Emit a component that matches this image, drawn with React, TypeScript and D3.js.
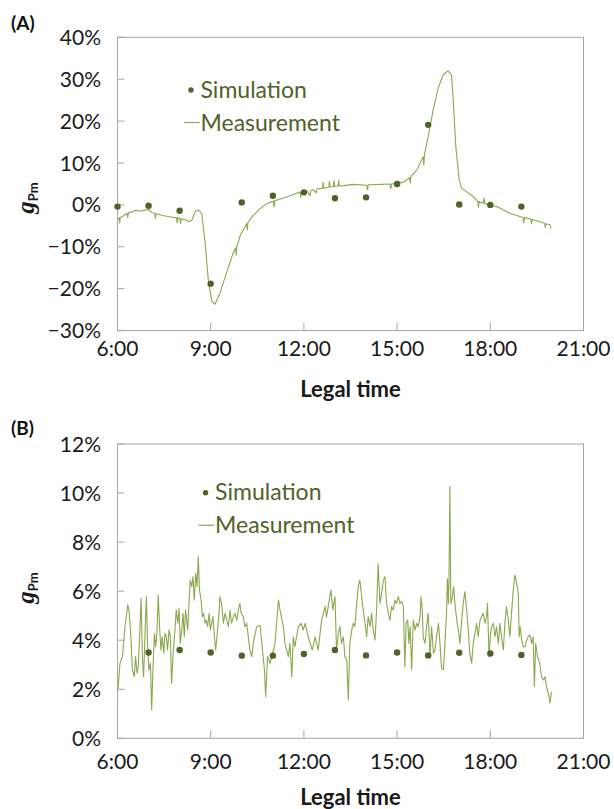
import React from 'react';
import * as d3 from 'd3';

// x axis (hours of the day)
const xTicks = [6, 9, 12, 15, 18, 21];

// panel A
const yTicksA = [-30, -20, -10, 0, 10, 20, 30, 40];
const simTimesA = [6, 7, 8, 9, 10, 11, 12, 13, 14, 15, 16, 17, 18, 19];
const simValuesA = [-0.4, -0.2, -1.4, -18.8, 0.6, 2.2, 3.0, 1.6, 1.8, 5.0, 19.1, 0.1, 0.0, -0.4];
const measA: [number, number][] = [
  [6.0, -3.5], [6.05, -3.0], [6.07, -4.3], [6.09, -3.0], [6.2, -2.6], [6.3, -2.0], [6.33, -3.0], [6.35, -1.9],
  [6.5, -1.6], [6.6, -1.2], [6.7, -1.5], [6.85, -1.3], [7.0, -1.1], [7.1, -1.8], [7.2, -2.0], [7.22, -3.2],
  [7.24, -2.1], [7.5, -2.6], [7.8, -3.0], [7.9, -3.0], [7.92, -4.3], [7.94, -3.1], [8.0, -3.2], [8.03, -4.4],
  [8.05, -3.3], [8.1, -3.4], [8.2, -3.6], [8.3, -4.0], [8.4, -3.6], [8.5, -1.6], [8.6, -1.2], [8.71, -2.0],
  [8.82, -9.0], [8.93, -18.5], [9.04, -23.1], [9.14, -23.7], [9.3, -21.0], [9.52, -16.0], [9.73, -11.3],
  [9.8, -10.3], [9.82, -12.0], [9.84, -10.0], [9.95, -7.3], [10.16, -4.5], [10.18, -6.0], [10.2, -4.2],
  [10.37, -2.5], [10.59, -0.9], [10.8, 0.3], [11.02, 0.9], [11.04, -0.5], [11.06, 1.0], [11.45, 1.9],
  [11.87, 3.1], [11.9, 1.8], [11.92, 3.1], [12.1, 3.3], [12.2, 2.2], [12.22, 3.4], [12.3, 3.6], [12.4, 2.9],
  [12.42, 3.8], [12.6, 4.0], [12.62, 5.4], [12.64, 4.0], [12.8, 4.2], [12.82, 5.6], [12.84, 4.3], [12.95, 4.4],
  [12.97, 5.8], [12.99, 4.4], [13.1, 4.5], [13.12, 5.8], [13.14, 4.5], [13.3, 4.6], [13.59, 4.9], [14.02, 4.7],
  [14.05, 3.6], [14.07, 4.8], [14.5, 4.9], [14.77, 5.0], [14.8, 3.8], [14.82, 5.0], [15.04, 5.2], [15.2, 5.4],
  [15.3, 5.9], [15.4, 6.5], [15.42, 5.2], [15.44, 6.7], [15.63, 8.3], [15.84, 11.5], [15.86, 9.5], [15.88, 12.0],
  [16.0, 16.3], [16.16, 22.6], [16.32, 27.8], [16.48, 31.0], [16.64, 32.0], [16.75, 31.0], [16.8, 25.8],
  [16.89, 13.9], [17.0, 5.9], [17.07, 4.0], [17.45, 2.0], [17.6, 0.8], [17.62, -0.6], [17.64, 0.8],
  [17.77, 0.4], [17.8, 1.6], [17.82, 0.3], [18.2, -0.4], [18.63, -2.0], [19.05, -3.0], [19.08, -4.3],
  [19.1, -3.0], [19.3, -3.4], [19.33, -4.5], [19.35, -3.5], [19.59, -4.0], [19.75, -4.4], [19.77, -5.4],
  [19.79, -4.5], [19.93, -4.8], [19.95, -5.7],
];

// panel B
const yTicksB = [0, 2, 4, 6, 8, 10, 12];
const simTimesB = [7, 8, 9, 10, 11, 12, 13, 14, 15, 16, 17, 18, 19];
const simValuesB = [3.5, 3.6, 3.5, 3.37, 3.37, 3.44, 3.6, 3.38, 3.5, 3.38, 3.49, 3.46, 3.4];
const measB: [number, number][] = [
  [6.0, 1.9], [6.03, 2.24], [6.08, 3.06], [6.16, 3.33], [6.24, 4.55], [6.33, 5.44], [6.37, 5.23], [6.43, 4.14],
  [6.48, 2.79], [6.54, 2.51], [6.58, 3.33], [6.63, 2.65], [6.67, 2.92], [6.72, 4.42], [6.76, 5.71], [6.8, 3.33],
  [6.84, 2.51], [6.89, 4.42], [6.93, 5.78], [6.97, 3.74], [7.01, 2.79], [7.06, 3.06], [7.1, 1.16], [7.14, 2.79],
  [7.19, 4.28], [7.23, 3.74], [7.27, 4.28], [7.31, 5.84], [7.36, 4.42], [7.4, 3.6], [7.44, 4.14], [7.49, 3.47],
  [7.53, 4.28], [7.57, 4.14], [7.61, 3.6], [7.66, 4.42], [7.7, 4.14], [7.74, 2.24], [7.79, 3.47], [7.85, 4.42],
  [7.89, 5.23], [7.94, 4.69], [7.98, 5.3], [8.02, 3.87], [8.07, 4.42], [8.11, 5.1], [8.15, 4.14], [8.19, 5.23],
  [8.26, 4.42], [8.3, 5.5], [8.34, 6.45], [8.39, 6.18], [8.43, 6.59], [8.47, 5.64], [8.52, 6.73], [8.56, 6.18],
  [8.6, 7.41], [8.64, 6.05], [8.69, 5.64], [8.73, 4.96], [8.77, 5.1], [8.82, 4.69], [8.86, 4.82], [8.9, 4.55],
  [8.95, 5.1], [8.99, 4.42], [9.03, 4.69], [9.07, 4.96], [9.12, 4.14], [9.16, 3.6], [9.2, 4.14], [9.25, 4.82],
  [9.3, 5.78], [9.35, 5.5], [9.41, 4.69], [9.46, 5.1], [9.57, 4.55], [9.62, 5.23], [9.67, 4.69], [9.73, 4.96],
  [9.78, 5.1], [9.84, 4.82], [9.89, 5.23], [9.94, 5.5], [9.98, 5.1], [10.05, 4.96], [10.1, 4.55], [10.16, 4.69],
  [10.21, 4.14], [10.26, 3.6], [10.32, 3.33], [10.37, 3.87], [10.48, 4.55], [10.59, 4.6], [10.73, 2.79],
  [10.77, 1.7], [10.83, 3.33], [10.91, 3.06], [11.02, 3.6], [11.07, 3.87], [11.18, 5.64], [11.23, 5.23],
  [11.34, 4.55], [11.39, 3.87], [11.5, 3.33], [11.55, 3.87], [11.61, 2.51], [11.66, 4.14], [11.71, 3.74],
  [11.82, 4.55], [11.91, 4.69], [11.98, 4.42], [12.04, 4.69], [12.14, 4.14], [12.2, 3.87], [12.27, 3.6],
  [12.36, 4.14], [12.46, 3.6], [12.57, 4.82], [12.68, 5.37], [12.73, 4.96], [12.87, 6.05], [12.93, 5.23],
  [13.0, 5.78], [13.05, 3.6], [13.11, 4.28], [13.16, 4.55], [13.21, 3.87], [13.27, 4.14], [13.32, 3.33],
  [13.38, 3.2], [13.43, 1.56], [13.48, 3.87], [13.54, 4.42], [13.59, 4.69], [13.64, 4.55], [13.7, 5.5],
  [13.75, 6.18], [13.8, 6.45], [13.86, 5.78], [13.91, 5.23], [13.97, 4.69], [14.02, 4.14], [14.07, 4.96],
  [14.13, 4.55], [14.18, 5.1], [14.23, 4.42], [14.29, 4.01], [14.34, 5.23], [14.39, 7.13], [14.45, 5.5],
  [14.5, 5.91], [14.56, 6.45], [14.61, 6.59], [14.66, 5.5], [14.72, 5.1], [14.77, 4.82], [14.82, 5.37],
  [14.88, 5.23], [14.93, 5.64], [14.98, 5.5], [15.04, 5.78], [15.09, 5.5], [15.15, 5.57], [15.2, 5.37],
  [15.25, 2.92], [15.29, 4.69], [15.34, 4.82], [15.38, 3.87], [15.42, 4.55], [15.47, 2.79], [15.52, 4.82],
  [15.58, 4.42], [15.63, 4.69], [15.68, 4.55], [15.74, 4.96], [15.77, 5.78], [15.81, 5.23], [15.84, 4.14],
  [15.9, 3.87], [15.95, 4.55], [16.0, 5.1], [16.06, 3.33], [16.11, 4.55], [16.17, 3.47], [16.22, 3.6],
  [16.27, 4.14], [16.33, 4.69], [16.38, 3.87], [16.43, 2.85], [16.49, 2.79], [16.54, 3.87], [16.59, 5.1],
  [16.62, 6.5], [16.65, 5.5], [16.67, 6.45], [16.7, 10.26], [16.73, 5.5], [16.78, 5.78], [16.82, 6.18],
  [16.86, 5.5], [16.92, 4.82], [16.97, 4.42], [17.02, 3.87], [17.08, 4.82], [17.13, 5.5], [17.18, 5.98],
  [17.24, 5.23], [17.29, 4.42], [17.34, 3.47], [17.4, 3.06], [17.45, 3.87], [17.51, 4.28], [17.56, 4.69],
  [17.61, 4.14], [17.67, 4.82], [17.72, 4.96], [17.77, 5.1], [17.83, 4.69], [17.88, 4.96], [17.91, 5.5],
  [17.96, 3.33], [18.0, 4.14], [18.04, 4.55], [18.1, 4.69], [18.15, 4.14], [18.2, 4.55], [18.26, 3.87],
  [18.31, 4.69], [18.36, 4.14], [18.42, 3.6], [18.47, 4.69], [18.52, 5.37], [18.58, 4.82], [18.63, 4.14],
  [18.69, 5.23], [18.74, 6.05], [18.79, 6.66], [18.85, 6.32], [18.9, 5.91], [18.93, 4.14], [18.96, 4.55],
  [19.01, 4.01], [19.06, 3.74], [19.12, 3.74], [19.17, 4.01], [19.22, 4.14], [19.28, 4.21], [19.33, 3.87],
  [19.38, 4.14], [19.42, 2.11], [19.46, 3.87], [19.52, 3.33], [19.59, 3.06], [19.65, 2.51], [19.71, 2.38],
  [19.76, 2.51], [19.81, 2.11], [19.87, 1.83], [19.92, 1.43], [19.97, 1.9],
];

const LINE = '#8aa84e';
const DOT = '#4f6228';
const FRAME = '#a6a6a6';
const FONT = 'Lato, "Open Sans", sans-serif';

type PanelProps = {
  label: string;
  top: number;
  bottom: number;
  yDomain: [number, number];
  yTicks: number[];
  simTimes: number[];
  simValues: number[];
  meas: [number, number][];
  legendX: number;
  legendY: number;
  xLabelY: number;
  titleY: number;
  yLabelY: number;
  labelY: number;
};

const left = 117.5;
const right = 583.5;

const Panel: React.FC<PanelProps> = (p) => {
  const x = d3.scaleLinear().domain([6, 21]).range([left, right]);
  const y = d3.scaleLinear().domain(p.yDomain).range([p.bottom, p.top]);
  const fmt = d3.format('d');
  const line = d3.line<[number, number]>()
    .x(d => x(d[0]))
    .y(d => y(d[1]));

  return (
    <g>
      <text x={11} y={p.labelY} fontFamily={FONT} fontWeight="bold" fontSize={19} fill="#111">{p.label}</text>
      <rect x={left} y={p.top} width={right - left} height={p.bottom - p.top} fill="none" stroke={FRAME} strokeWidth={1} />
      {p.yTicks.map(t => (
        <g key={t}>
          <line x1={left} x2={left + 7} y1={y(t)} y2={y(t)} stroke={FRAME} />
          <text x={101} y={y(t)} dy="0.36em" textAnchor="end" fontFamily={FONT} fontSize={21} fill="#1a1a1a">
            {fmt(t).replace('-', '\u2212')}%
          </text>
        </g>
      ))}
      {xTicks.map(t => (
        <g key={t}>
          <line x1={x(t)} x2={x(t)} y1={p.bottom} y2={p.bottom - 8} stroke={FRAME} />
          <text x={x(t)} y={p.xLabelY} textAnchor="middle" fontFamily={FONT} fontSize={21} fill="#1a1a1a">
            {t}:00
          </text>
        </g>
      ))}
      <path d={line(p.meas) || ''} fill="none" stroke={LINE} strokeWidth={1.1} strokeLinejoin="round" />
      {p.simTimes.map((t, i) => (
        <circle key={t} cx={x(t)} cy={y(p.simValues[i])} r={3.2} fill={DOT} />
      ))}
      {/* legend */}
      <circle cx={p.legendX} cy={p.legendY} r={2.7} fill={DOT} />
      <text x={p.legendX + 9.5} y={p.legendY + 7.5} fontFamily={FONT} fontSize={23} fill={DOT}>Simulation</text>
      <line x1={p.legendX - 7} x2={p.legendX + 8.5} y1={p.legendY + 32.5} y2={p.legendY + 32.5} stroke={LINE} strokeWidth={1.2} />
      <text x={p.legendX + 9.5} y={p.legendY + 40.5} fontFamily={FONT} fontSize={23} fill={DOT}>Measurement</text>
      <text x={350.5} y={p.titleY} textAnchor="middle" fontFamily={FONT} fontWeight="bold" fontSize={22} fill="#1a1a1a">
        Legal time
      </text>
      <text transform={`translate(34,${p.yLabelY}) rotate(-90)`} textAnchor="middle" fill="#1a1a1a">
        <tspan fontFamily='"Liberation Serif", serif' fontStyle="italic" fontWeight="bold" fontSize={25}>g</tspan>
        <tspan fontFamily={FONT} fontWeight="bold" fontSize={13} dy={4}>Pm</tspan>
      </text>
    </g>
  );
};

const App: React.FC = () => {
  return (
    <svg width={614} height={809} style={{ position: 'absolute', left: 0, top: 0, background: '#fff' }}>
      <rect width={614} height={809} fill="#fff" />
      <Panel
        label="(A)" labelY={30} top={37.3} bottom={330.6} yDomain={[-30, 40]} yTicks={yTicksA}
        simTimes={simTimesA} simValues={simValuesA} meas={measA}
        legendX={191} legendY={90} xLabelY={356} titleY={397} yLabelY={198}
      />
      <Panel
        label="(B)" labelY={435} top={444} bottom={738.3} yDomain={[0, 12]} yTicks={yTicksB}
        simTimes={simTimesB} simValues={simValuesB} meas={measB}
        legendX={205.6} legendY={492.7} xLabelY={769} titleY={805} yLabelY={588}
      />
    </svg>
  );
};

export default App;
